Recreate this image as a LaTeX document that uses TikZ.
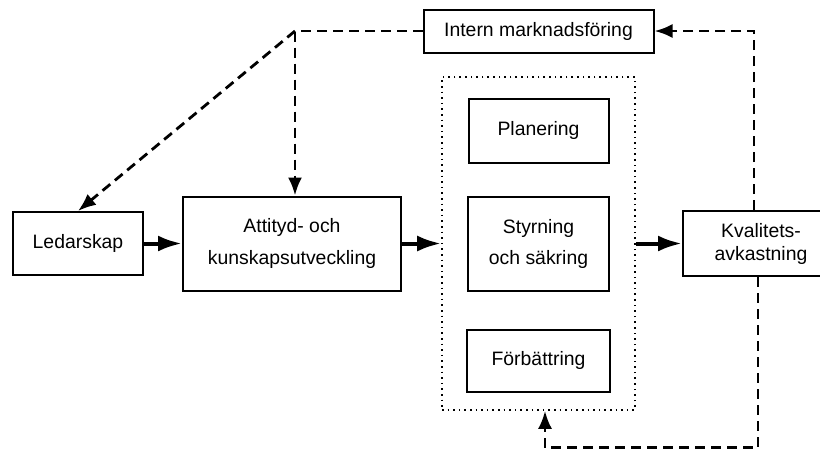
\documentclass[tikz,border=0pt]{standalone}
\usepackage{fontspec}
\setmainfont{Liberation Sans}
\usetikzlibrary{arrows.meta,calc,positioning}
\tikzset{%
	box/.style    = {draw, rectangle, line width=1pt, inner sep=0pt, align=center, font=\fontsize{9.7}{11.5}\selectfont},
	dotbox/.style = {draw, rectangle, dotted, line width=0.8pt, minimum width=96.5pt, minimum height=166.5pt},
	flow/.style   = {line width=2pt, -{Latex[length=12pt,width=8pt]}},
	back/.style   = {line width=1.4pt, dash pattern=on 5pt off 3pt, -{Latex[length=9pt,width=7pt]}},
}
\begin{document}
\begin{tikzpicture}[x=0.5pt,y=0.5pt]
		\useasboundingbox (0,0) rectangle (820,-452);
		\node[box, minimum width=65pt, minimum height=31.5pt] (led) at (78,-243.5) {Ledarskap};
		\node[box, minimum width=109pt, minimum height=47pt, right of=led, node distance=107pt] (att) {Attityd- och\\[4.5pt] kunskapsutveckling};
		\node[box, minimum width=70.5pt, minimum height=47pt, right of=att, node distance=123.25pt] (styr) {Styrning\\[4pt] och s\"akring};
		\node[dotbox] (proc) at (styr) {};
		\node[box, minimum width=70pt, minimum height=32pt, above of=styr, node distance=56.5pt] (plan) {Planering};
		\node[box, minimum width=71.5pt, minimum height=31pt, below of=styr, node distance=58.5pt] (forb) {F\"orb\"attring};
		\node[box, minimum width=115pt, minimum height=21.5pt, above of=plan, node distance=49.75pt] (intern) {Intern marknadsf\"oring};
		\node[box, minimum width=78pt, minimum height=32.5pt, right of=styr, node distance=111.25pt] (kval) {Kvalitets-\\avkastning};
		
		\draw[flow] (led) -- (att);
		\draw[flow] (att) -- (proc);
		\draw[flow] (proc) -- (kval);
		
		\coordinate (attin) at ($(att.north)+(3,0)$);
		\coordinate (hub) at (attin |- intern.west);
		\coordinate (kvalup) at ($(kval.north)+(-7,0)$);
		\coordinate (kvaldn) at ($(kval.south)+(-3,0)$);
		\coordinate (low) at ($(proc.south)+(6.5,-37)$);
		\draw[back] (intern.west) -- (hub) -- (attin);
		\draw[back] (hub) -- (led.north);
		\draw[back] (kvalup) |- (intern.east);
		\draw[back] (kvaldn) |- (low) -- (low |- proc.south);
		\end{tikzpicture}
\end{document}
